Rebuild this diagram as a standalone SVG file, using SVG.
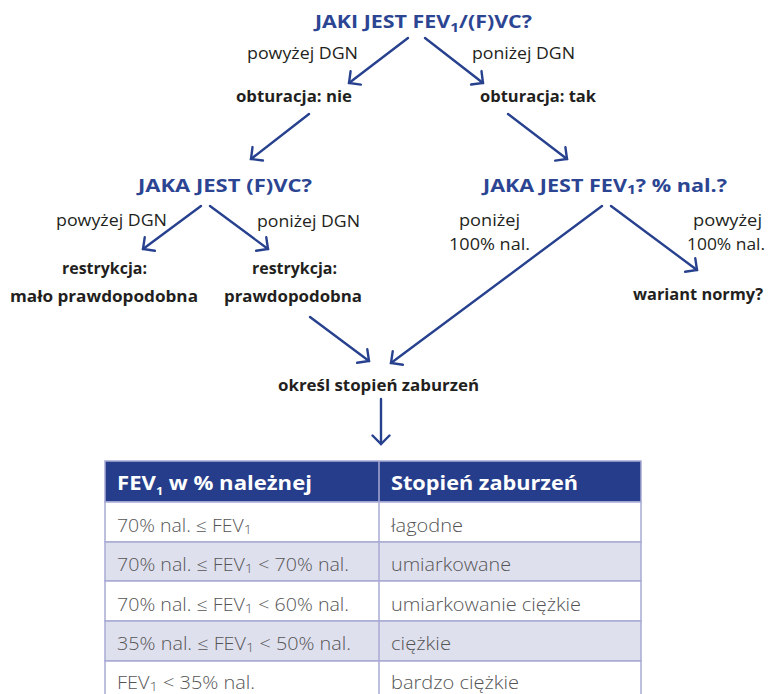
<svg xmlns="http://www.w3.org/2000/svg" width="770" height="694" viewBox="0 0 770 694">
<defs>
<style>
.q{font-family:"Open Sans","Liberation Sans",sans-serif;font-weight:700;fill:#2b4593;font-size:18px}
.l{font-family:"Open Sans","Liberation Sans",sans-serif;font-weight:400;fill:#231f20;font-size:15.5px}
.b{font-family:"Open Sans","Liberation Sans",sans-serif;font-weight:700;fill:#231f20;font-size:15.5px}
.th{font-family:"Open Sans","Liberation Sans",sans-serif;font-weight:700;fill:#ffffff;font-size:19.5px}
.td{font-family:"Open Sans","Liberation Sans",sans-serif;font-weight:300;fill:#555555;font-size:17.5px}
.c{fill:none;stroke:#27418f;stroke-width:2.4;stroke-linecap:round}
.cell{stroke:#a9aad4;stroke-width:1.5}
</style>
<marker id="ah" viewBox="0 0 20 20" refX="10.5" refY="10" markerWidth="20" markerHeight="20" markerUnits="userSpaceOnUse" orient="auto">
<path d="M2,1.5 L10.5,10 L2,18.5" fill="none" stroke="#27418f" stroke-width="2.4" stroke-linecap="round" stroke-linejoin="miter"/>
</marker>
</defs>
<rect width="770" height="694" fill="#ffffff"/>

<g id="connectors">
<line class="c" x1="408" y1="38" x2="349" y2="83" marker-end="url(#ah)"/>
<line class="c" x1="425" y1="38" x2="483" y2="83" marker-end="url(#ah)"/>
<line class="c" x1="309" y1="114" x2="251" y2="159" marker-end="url(#ah)"/>
<line class="c" x1="508" y1="114" x2="567" y2="159" marker-end="url(#ah)"/>
<line class="c" x1="201" y1="206" x2="143" y2="249" marker-end="url(#ah)"/>
<line class="c" x1="210" y1="206" x2="268" y2="249" marker-end="url(#ah)"/>
<line class="c" x1="611" y1="206" x2="697" y2="270" marker-end="url(#ah)"/>
<line class="c" x1="602" y1="206" x2="391" y2="363" marker-end="url(#ah)"/>
<line class="c" x1="310" y1="317" x2="369" y2="361" marker-end="url(#ah)"/>
<line class="c" x1="381" y1="399" x2="381" y2="444" marker-end="url(#ah)"/>
</g>

<g id="q1"><text class="q" x="315" y="28" textLength="217" lengthAdjust="spacingAndGlyphs">JAKI JEST FEV<tspan font-size="13" dy="4">1</tspan><tspan dy="-4">/(F)VC?</tspan></text></g>
<g id="l1"><text class="l" x="247" y="59" textLength="111" lengthAdjust="spacingAndGlyphs">powyżej DGN</text></g>
<g id="l2"><text class="l" x="472" y="59" textLength="103" lengthAdjust="spacingAndGlyphs">poniżej DGN</text></g>
<g id="n-obt-nie"><text class="b" x="236" y="102" textLength="116" lengthAdjust="spacingAndGlyphs">obturacja: nie</text></g>
<g id="n-obt-tak"><text class="b" x="480" y="102" textLength="116" lengthAdjust="spacingAndGlyphs">obturacja: tak</text></g>

<g id="q2"><text class="q" x="138" y="192" textLength="174" lengthAdjust="spacingAndGlyphs">JAKA JEST (F)VC?</text></g>
<g id="l3"><text class="l" x="56" y="226" textLength="111" lengthAdjust="spacingAndGlyphs">powyżej DGN</text></g>
<g id="l4"><text class="l" x="257" y="227" textLength="103" lengthAdjust="spacingAndGlyphs">poniżej DGN</text></g>
<g id="n-r1"><text class="b" x="62" y="274" textLength="85" lengthAdjust="spacingAndGlyphs">restrykcja:</text><text class="b" x="10" y="302" textLength="188" lengthAdjust="spacingAndGlyphs">mało prawdopodobna</text></g>
<g id="n-r2"><text class="b" x="252" y="274" textLength="85" lengthAdjust="spacingAndGlyphs">restrykcja:</text><text class="b" x="224" y="302" textLength="138" lengthAdjust="spacingAndGlyphs">prawdopodobna</text></g>

<g id="q3"><text class="q" x="483" y="192" textLength="244" lengthAdjust="spacingAndGlyphs">JAKA JEST FEV<tspan font-size="13" dy="2">1</tspan><tspan dy="-2">? % nal.?</tspan></text></g>
<g id="l5"><text class="l" x="459" y="226" textLength="61" lengthAdjust="spacingAndGlyphs">poniżej</text><text class="l" x="449" y="250" textLength="81" lengthAdjust="spacingAndGlyphs">100% nal.</text></g>
<g id="l6"><text class="l" x="693" y="226" textLength="69" lengthAdjust="spacingAndGlyphs">powyżej</text><text class="l" x="687" y="250" textLength="78" lengthAdjust="spacingAndGlyphs">100% nal.</text></g>
<g id="n-wariant"><text class="b" x="633" y="300" textLength="130" lengthAdjust="spacingAndGlyphs">wariant normy?</text></g>

<g id="n-okresl"><text class="b" x="278" y="391" textLength="201" lengthAdjust="spacingAndGlyphs">określ stopień zaburzeń</text></g>

<g id="table">
<rect x="105" y="461" width="536" height="41" fill="#253d8a" class="cell"/>
<rect x="105" y="502" width="536" height="40" fill="#ffffff" class="cell"/>
<rect x="105" y="542" width="536" height="39" fill="#dfe0ee" class="cell"/>
<rect x="105" y="581" width="536" height="40" fill="#ffffff" class="cell"/>
<rect x="105" y="621" width="536" height="40" fill="#dfe0ee" class="cell"/>
<rect x="105" y="661" width="536" height="40" fill="#ffffff" class="cell"/>
<line x1="379" y1="461" x2="379" y2="702" class="cell"/>
<text class="th" x="117" y="490" textLength="195" lengthAdjust="spacingAndGlyphs">FEV<tspan font-size="11" dy="5">1</tspan><tspan dy="-5"> w % należnej</tspan></text>
<text class="th" x="391" y="490" textLength="187" lengthAdjust="spacingAndGlyphs">Stopień zaburzeń</text>
<text class="td" x="117" y="532" textLength="135" lengthAdjust="spacingAndGlyphs">70% nal. ≤ FEV<tspan font-size="13" dy="2">1</tspan></text>
<text class="td" x="391" y="532" textLength="72" lengthAdjust="spacingAndGlyphs">łagodne</text>
<text class="td" x="117" y="571" textLength="232" lengthAdjust="spacingAndGlyphs">70% nal. ≤ FEV<tspan font-size="13" dy="2">1</tspan><tspan dy="-2"> &lt; 70% nal.</tspan></text>
<text class="td" x="391" y="571" textLength="120" lengthAdjust="spacingAndGlyphs">umiarkowane</text>
<text class="td" x="117" y="611" textLength="232" lengthAdjust="spacingAndGlyphs">70% nal. ≤ FEV<tspan font-size="13" dy="2">1</tspan><tspan dy="-2"> &lt; 60% nal.</tspan></text>
<text class="td" x="391" y="611" textLength="190" lengthAdjust="spacingAndGlyphs">umiarkowanie ciężkie</text>
<text class="td" x="117" y="650" textLength="234" lengthAdjust="spacingAndGlyphs">35% nal. ≤ FEV<tspan font-size="13" dy="2">1</tspan><tspan dy="-2"> &lt; 50% nal.</tspan></text>
<text class="td" x="391" y="650" textLength="60" lengthAdjust="spacingAndGlyphs">ciężkie</text>
<text class="td" x="117" y="689" textLength="138" lengthAdjust="spacingAndGlyphs">FEV<tspan font-size="13" dy="2">1</tspan><tspan dy="-2"> &lt; 35% nal.</tspan></text>
<text class="td" x="391" y="689" textLength="128" lengthAdjust="spacingAndGlyphs">bardzo ciężkie</text>
</g>
</svg>
